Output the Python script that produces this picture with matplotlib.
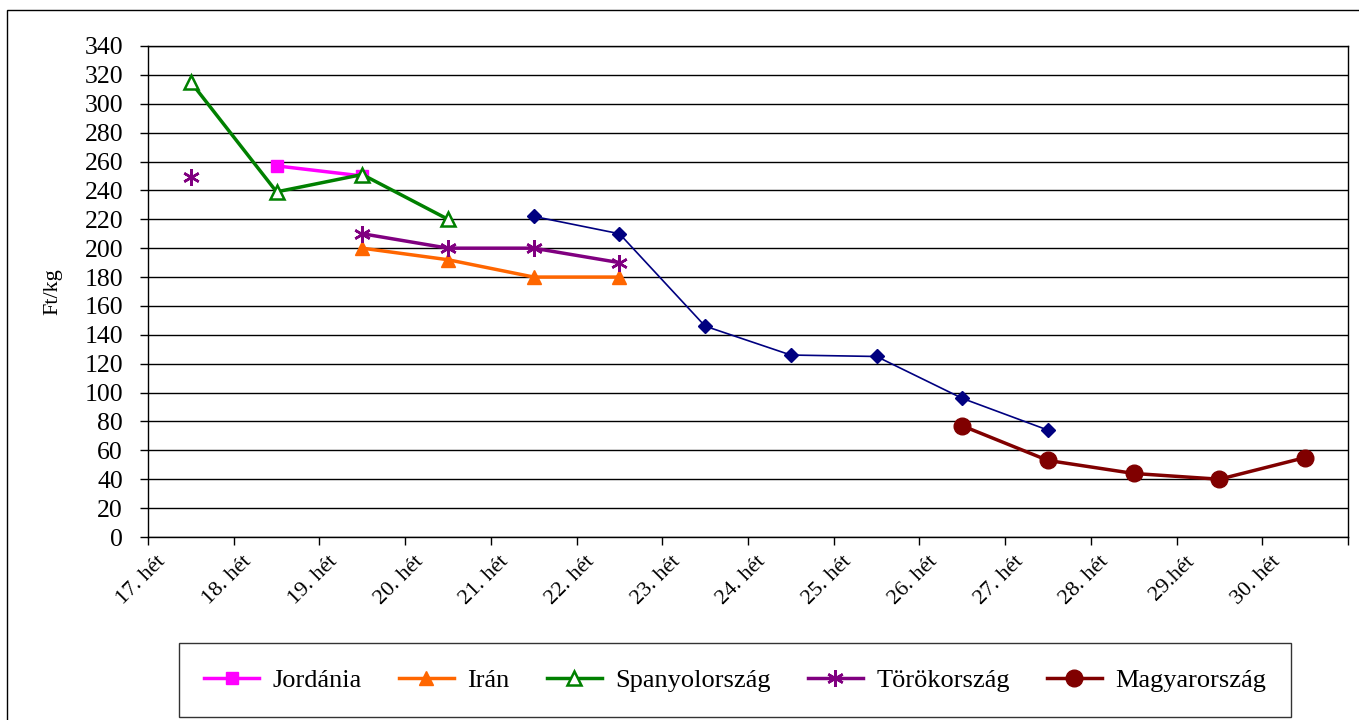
import numpy as np
import matplotlib.pyplot as plt
from matplotlib.patches import Rectangle
from matplotlib.transforms import ScaledTranslation

nan = np.nan

weeks = ['17. hét', '18. hét', '19. hét', '20. hét', '21. hét', '22. hét', '23. hét',
         '24. hét', '25. hét', '26. hét', '27. hét', '28. hét', '29.hét', '30. hét']

jordania = [nan, 257, 250, nan, nan, nan, nan, nan, nan, nan, nan, nan, nan, nan]
iran = [nan, nan, 200, 192, 180, 180, nan, nan, nan, nan, nan, nan, nan, nan]
spanyol = [315, 239, 251, 220, nan, nan, nan, nan, nan, nan, nan, nan, nan, nan]
torok = [249, nan, 210, 200, 200, 190, nan, nan, nan, nan, nan, nan, nan, nan]
magyar = [nan, nan, nan, nan, nan, nan, nan, nan, nan, 77, 53, 44, 40, 55]
kek = [nan, nan, nan, nan, 222, 210, 146, 126, 125, 96, 74, nan, nan, nan]

plt.rcParams['font.family'] = ['Liberation Serif', 'DejaVu Serif']

fig = plt.figure(figsize=(13.59, 7.2), dpi=100)
ax = fig.add_axes([148 / 1359, 1 - 537 / 720, 1200 / 1359, 491 / 720])

x = np.arange(len(weeks))
asterisk = (6, 2, 0)

ax.plot(x, kek, color='#000080', lw=1.2, marker='D', ms=7, zorder=3)
ax.plot(x, jordania, color='#FF00FF', lw=2.5, marker='s', ms=8, label='Jordánia', zorder=4)
ax.plot(x, iran, color='#FF6600', lw=2.5, marker='^', ms=10, label='Irán', zorder=4)
ax.plot(x, spanyol, color='#008000', lw=2.5, marker='^', ms=10, mfc='white', mew=1.8,
        label='Spanyolország', zorder=5)
ax.plot(x, torok, color='#800080', lw=2.5, marker=asterisk, ms=12, mew=1.8,
        label='Törökország', zorder=4)
ax.plot(x, magyar, color='#800000', lw=2.5, marker='o', ms=12, label='Magyarország', zorder=4)

ax.set_xlim(-0.5, len(weeks) - 0.5)
ax.set_ylim(0, 340)
ax.set_yticks(np.arange(0, 341, 20))
ax.yaxis.grid(True, color='black', lw=1)
ax.set_axisbelow(True)
ax.tick_params(axis='y', length=6, width=1, labelsize=18.5, pad=12)

ax.set_xticks(x)
ax.set_xticks(np.arange(-0.5, len(weeks), 1), minor=True)
ax.tick_params(axis='x', which='major', length=0, pad=11)
ax.tick_params(axis='x', which='minor', length=6, width=1)
ax.set_xticklabels(weeks, rotation=45, ha='right', va='top', fontsize=16)
shift = ScaledTranslation(-0.21, 0, fig.dpi_scale_trans)
for lab in ax.get_xticklabels():
    lab.set_transform(lab.get_transform() + shift)

for s in ax.spines.values():
    s.set_color('black')
    s.set_linewidth(1)

ax.set_ylabel('Ft/kg', fontsize=16, labelpad=16)

fig.patches.append(Rectangle((7 / 1359, -0.05), 1.1, 1 - 10 / 720 + 0.05,
                             transform=fig.transFigure, fill=False, ec='black', lw=1))

leg = fig.legend(loc='center', bbox_to_anchor=((173 + 1297) / 2 / 1359, 1 - 680 / 720),
                 ncol=5, fontsize=19, frameon=True, fancybox=False, edgecolor='black',
                 borderpad=0.95, handlelength=2.1, columnspacing=1.4, handletextpad=0.5)
leg.get_frame().set_linewidth(1)

fig.savefig('out.png', dpi=100)
